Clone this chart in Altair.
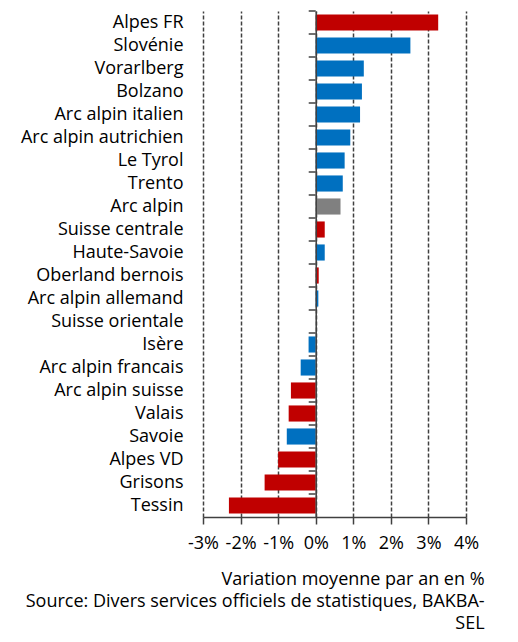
import altair as alt
import pandas as pd

regions = ["Alpes FR", "Slovénie", "Vorarlberg", "Bolzano", "Arc alpin italien",
           "Arc alpin autrichien", "Le Tyrol", "Trento", "Arc alpin", "Suisse centrale",
           "Haute-Savoie", "Oberland bernois", "Arc alpin allemand", "Suisse orientale",
           "Isère", "Arc alpin francais", "Arc alpin suisse", "Valais", "Savoie",
           "Alpes VD", "Grisons", "Tessin"]
values = [3.26, 2.52, 1.28, 1.23, 1.18, 0.92, 0.77, 0.72, 0.66, 0.24, 0.24, 0.08, 0.07,
          0.0, -0.19, -0.40, -0.66, -0.72, -0.77, -1.0, -1.36, -2.31]
groups = ["CH", "other", "other", "other", "other", "other", "other", "other", "total",
          "CH", "other", "CH", "other", "CH", "other", "other", "CH", "CH", "other",
          "CH", "CH", "CH"]
x_ticks = [-3, -2, -1, 0, 1, 2, 3, 4]

df = pd.DataFrame({"region": regions, "value": values, "group": groups})

W, H = 263, 506
FONT = "Open Sans"
FS = 18
DARK = "#404040"

x_enc = alt.X("value:Q",
              scale=alt.Scale(domain=[-3, 4], nice=False, zero=False),
              axis=alt.Axis(values=x_ticks, tickCount=20, labelExpr="datum.value + '%'",
                            grid=True, gridDash=[4, 2], gridColor=DARK, gridWidth=1.5,
                            gridOpacity=1, domainColor=DARK, domainWidth=1.5,
                            tickColor=DARK, tickWidth=1.5, tickSize=7, labelFontSize=FS,
                            labelFont=FONT, labelColor="black", labelPadding=10,
                            labelOverlap=False, labelFlush=False, title=None))

bars = alt.Chart(df).mark_bar().encode(
    x=x_enc,
    y=alt.Y("region:N", sort=regions,
            scale=alt.Scale(paddingInner=0.3, paddingOuter=0.15),
            axis=alt.Axis(title=None, ticks=False, domain=False, labelFontSize=FS,
                          labelFont=FONT, labelColor="black", labelPadding=20,
                          minExtent=195, maxExtent=195)),
    color=alt.Color("group:N",
                    scale=alt.Scale(domain=["CH", "other", "total"],
                                    range=["#C00000", "#0070C0", "#808080"]),
                    legend=None),
)

zero_axis = alt.Chart(df).mark_tick(orient="horizontal", size=7, thickness=1.5,
                                    xOffset=-3.5, color=DARK, opacity=1).encode(
    x=alt.datum(0),
    y=alt.Y("region:N", sort=regions, bandPosition=0,
            scale=alt.Scale(paddingInner=0, paddingOuter=0),
            axis=alt.Axis(title=None, labels=False, ticks=False, orient="left",
                          offset=-W * 3 / 7, domainColor=DARK, domainWidth=1.5,
                          zindex=2, minExtent=0, maxExtent=0)),
)

chart = alt.layer(bars, zero_axis).resolve_scale(y="independent").properties(
    width=W, height=H,
    padding={"left": 0, "top": 2, "right": 0, "bottom": 0},
    title=alt.TitleParams(
        text=["Variation moyenne par an en %",
              "Source: Divers services officiels de statistiques, BAKBA-",
              "SEL"],
        orient="bottom", anchor="end", align="right", dx=6, fontSize=FS,
        fontWeight="normal", font=FONT, lineHeight=22, offset=19, color="black"),
).configure_view(stroke=None)

chart.save("out.html", embed_options={"renderer": "svg", "actions": False})
